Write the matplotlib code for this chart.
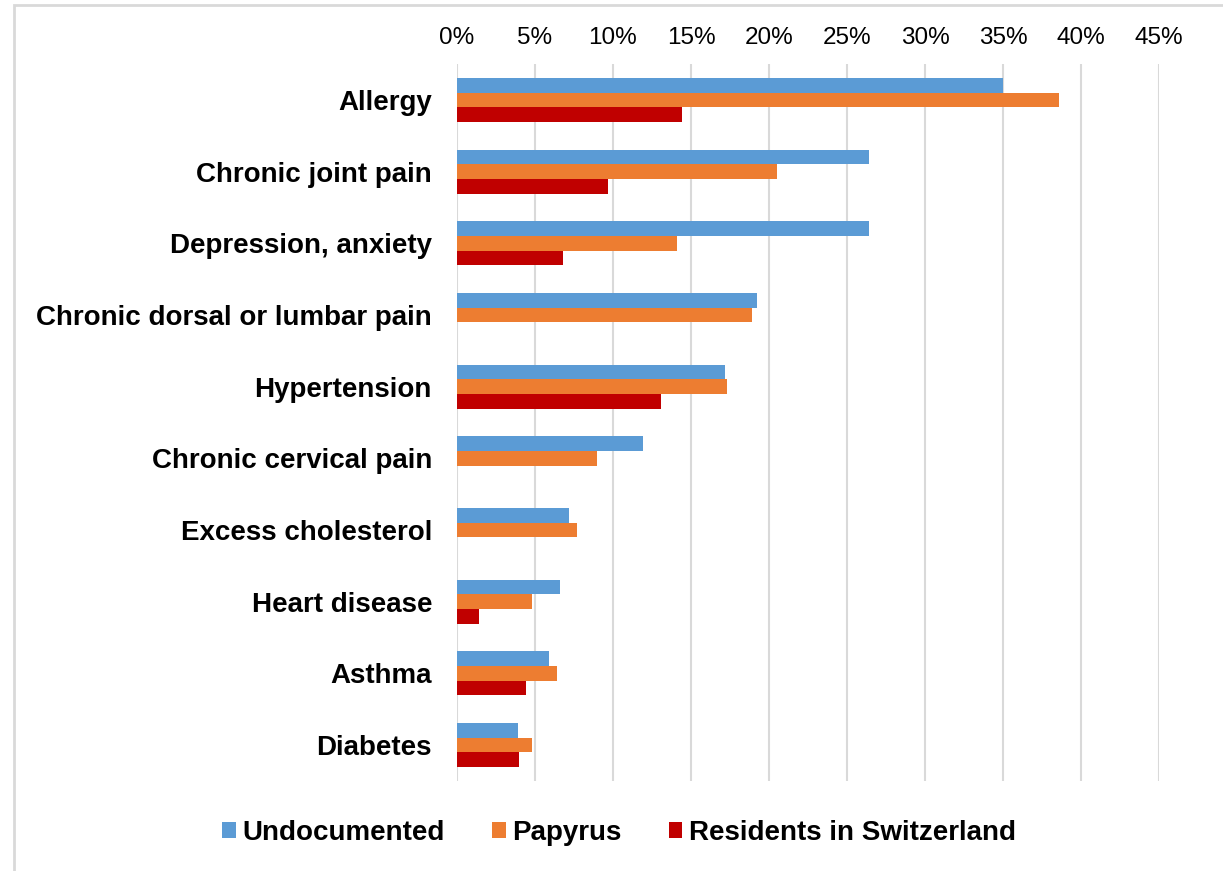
import matplotlib.pyplot as plt
from matplotlib.patches import Rectangle
from matplotlib.ticker import FuncFormatter
import numpy as np

plt.rcParams["font.family"] = ["Liberation Sans", "DejaVu Sans"]

conditions = [
    "Allergy",
    "Chronic joint pain",
    "Depression, anxiety",
    "Chronic dorsal or lumbar pain",
    "Hypertension",
    "Chronic cervical pain",
    "Excess cholesterol",
    "Heart disease",
    "Asthma",
    "Diabetes",
]
undocumented = [35.0, 26.4, 26.4, 19.2, 17.2, 11.9, 7.2, 6.6, 5.9, 3.9]
papyrus = [38.6, 20.5, 14.1, 18.9, 17.3, 9.0, 7.7, 4.8, 6.4, 4.8]
residents = [14.4, 9.7, 6.8, 0, 13.1, 0, 0, 1.4, 4.4, 4.0]

series = [
    ("Undocumented", undocumented, "#5B9BD5"),
    ("Papyrus", papyrus, "#ED7D31"),
    ("Residents in Switzerland", residents, "#C00000"),
]

fig = plt.figure(figsize=(12.23, 8.71), dpi=100)
# light grey chart border (cut off on the right and bottom)
fig.patches.append(Rectangle((14 / 1223, -0.1), 1.2, (871 - 5) / 871 + 0.1,
                             transform=fig.transFigure, fill=False,
                             edgecolor="#D9D9D9", linewidth=2))

ax = fig.add_axes([457 / 1223, 1 - 781 / 871, 702 / 1223, 717 / 871])

y = np.arange(len(conditions))
h = 0.205
for i, (name, vals, color) in enumerate(series):
    ax.barh(y + (i - 1) * h, vals, height=h, color=color, label=name, zorder=3)

ax.set_xlim(0, 45)
ax.set_ylim(len(conditions) - 0.5, -0.5)
ax.set_xticks(np.arange(0, 46, 5))
ax.xaxis.set_major_formatter(FuncFormatter(lambda v, p: f"{v:.0f}%"))
ax.xaxis.tick_top()
ax.tick_params(axis="x", length=0, pad=11, labelsize=17.5)
ax.set_yticks(y)
ax.set_yticklabels(conditions, fontsize=20, fontweight="bold")
ax.tick_params(axis="y", length=0, pad=18)
ax.grid(axis="x", color="#D9D9D9", linewidth=1.5, zorder=0)
for s in ax.spines.values():
    s.set_visible(False)

ax.legend(loc="center", bbox_to_anchor=(619 / 1223, 1 - 833 / 871),
          bbox_transform=fig.transFigure, ncol=3, frameon=False,
          prop={"weight": "bold", "size": 20}, handlelength=0.5,
          handleheight=0.5, handletextpad=0.22, columnspacing=1.7)

fig.savefig("out.png", dpi=100)
